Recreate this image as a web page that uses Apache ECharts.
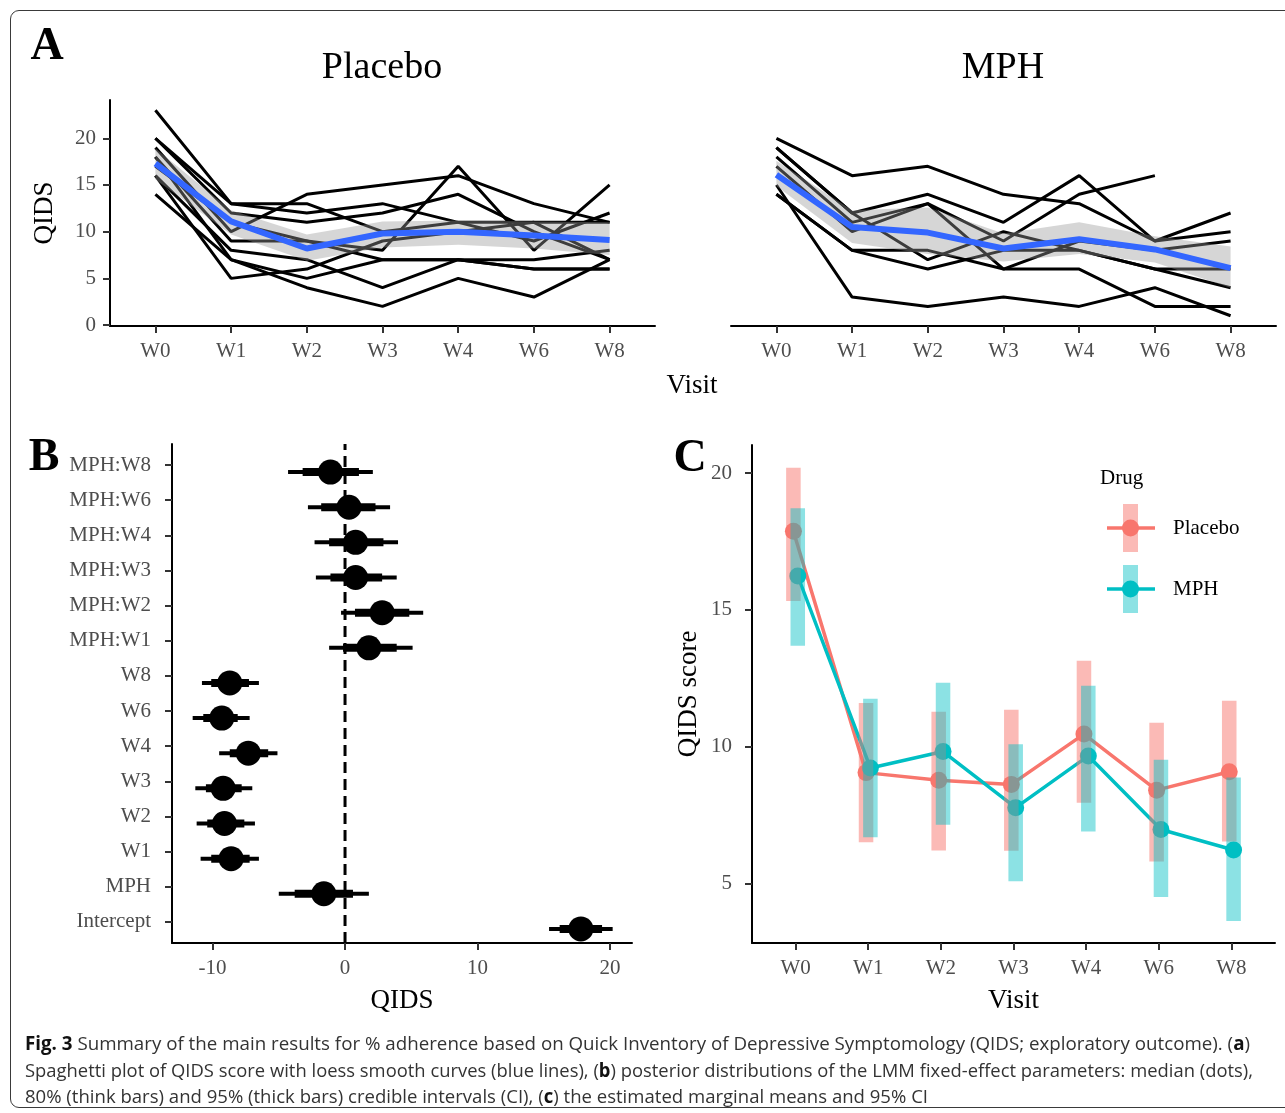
<!DOCTYPE html>
<html><head><meta charset="utf-8">
<script src="https://cdn.jsdelivr.net/npm/echarts@6/dist/echarts.min.js"></script>
<style>
html,body{margin:0;padding:0;background:#fff;width:1285px;height:1113px;overflow:hidden;}
#chart{position:absolute;left:0;top:0;width:1285px;height:1113px;}
#frame{position:absolute;left:10px;top:10px;width:1320px;height:1098px;border:1.5px solid #3a3a3a;border-radius:9px;box-sizing:border-box;pointer-events:none;}
.cap{position:absolute;left:25px;white-space:nowrap;font-family:"Open Sans";font-size:19px;color:#333;transform-origin:0 50%;line-height:20px;}
.cap b{color:#111;}
</style></head><body>
<div id="frame"></div>
<div id="chart"></div>
<div class="cap" id="c1" style="top:1033px"><b>Fig. 3</b> Summary of the main results for % adherence based on Quick Inventory of Depressive Symptomology (QIDS; exploratory outcome). (<b>a</b>)</div>
<div class="cap" id="c2" style="top:1060px">Spaghetti plot of QIDS score with loess smooth curves (blue lines), (<b>b</b>) posterior distributions of the LMM fixed-effect parameters: median (dots),</div>
<div class="cap" id="c3" style="top:1086px">80% (think bars) and 95% (thick bars) credible intervals (CI), (<b>c</b>) the estimated marginal means and 95% CI</div>
<script>
// ---------- DATA ----------
const visits = ['W0','W1','W2','W3','W4','W6','W8'];

// Panel A: individual trajectories (values at W0..W8)
const placeboSubjects = [
  [23, 13, 13, 10, 11, 11, 11],
  [20, 12, 11, 12, 14, 10, 7],
  [19, 10, 14, 15, 16, 13, 11],
  [20, 13, 12, 13, 11, 9, 12],
  [18, 9, 9, 8, 17, 8, 15],
  [17, 11, 9, 7, 7, 7, 8],
  [16, 5, 6, 9, 10, 11, 7],
  [16, 8, 7, 4, 7, 6, 6],
  [14, 7, 4, 2, 5, 3, 7],
  [18, 7, 5, 7, 7, 6, 6]
];
const mphSubjects = [
  [20, 16, 17, 14, 13, 9, 12],
  [19, 12, 14, 11, 16, 9, 10],
  [18, 11, 13, 9, 14, 16, null],
  [17, 10, 13, 6, 9, 8, 9],
  [15, 3, 2, 3, 2, 4, 1],
  [14, 8, 8, 6, 6, 2, 2],
  [14, 8, 6, 8, 8, 6, 6],
  [19, 12, 7, 10, 8, 6, 4]
];
// loess smooth + ribbon
const placeboLoess   = [17.3, 11.1, 8.2, 9.8, 10.0, 9.6, 9.1];
const placeboLoessLo = [15.6, 9.7, 6.9, 8.3, 8.6, 8.2, 7.5];
const placeboLoessHi = [18.9, 12.3, 9.7, 11.1, 11.2, 11.1, 11.0];
const mphLoess   = [16.1, 10.5, 9.9, 8.2, 9.2, 8.1, 6.1];
const mphLoessLo = [14.9, 8.8, 7.6, 6.8, 7.6, 6.7, 4.0];
const mphLoessHi = [17.6, 12.3, 12.6, 9.8, 11.0, 9.5, 8.4];

// Panel B: posterior summaries (bottom to top)
const params = ['Intercept','MPH','W1','W2','W3','W4','W6','W8','MPH:W1','MPH:W2','MPH:W3','MPH:W4','MPH:W6','MPH:W8'];
const postMedian = [17.8, -1.6, -8.6, -9.1, -9.2, -7.3, -9.3, -8.7, 1.8, 2.8, 0.8, 0.8, 0.3, -1.1];
const lo95 = [15.4, -5.0, -10.9, -11.2, -11.3, -9.5, -11.5, -10.8, -1.2, -0.3, -2.2, -2.3, -2.8, -4.3];
const hi95 = [20.2, 1.8, -6.5, -6.8, -7.0, -5.1, -7.2, -6.5, 5.1, 5.9, 3.9, 4.0, 3.4, 2.1];
const lo80 = [16.2, -3.8, -10.1, -10.4, -10.5, -8.7, -10.7, -10.1, -0.15, 0.75, -1.1, -1.2, -1.8, -3.2];
const hi80 = [19.4, 0.6, -7.2, -7.6, -7.8, -5.8, -8.1, -7.25, 3.9, 4.85, 2.8, 2.9, 2.3, 1.05];

// Panel C: estimated marginal means and 95% CI
const emmPlacebo   = [17.88, 9.05, 8.77, 8.62, 10.46, 8.41, 9.08];
const emmPlaceboLo = [15.33, 6.50, 6.20, 6.19, 7.95, 5.80, 6.53];
const emmPlaceboHi = [20.20, 11.60, 11.28, 11.35, 13.14, 10.87, 11.68];
const emmMph   = [16.24, 9.22, 9.82, 7.77, 9.66, 6.97, 6.22];
const emmMphLo = [13.69, 6.69, 7.14, 5.08, 6.90, 4.50, 3.62];
const emmMphHi = [18.72, 11.75, 12.34, 10.09, 12.23, 9.52, 8.87];

const placeboTicksA = [0, 5, 10, 15, 20];
const ticksB = [-10, 0, 10, 20];
const ticksC = [5, 10, 15, 20];

// ---------- STYLES ----------
const SERIF = '"Liberation Serif", "DejaVu Serif", serif';
const RED = '#F8766D', TEAL = '#00BFC4';
const visitIdx = visits.map((v, i) => i);
const labelStyle = (margin) => ({color:'#4D4D4D', fontSize:21, fontFamily:SERIF, margin});
const axisLineStyle = {show:true, onZero:false, lineStyle:{color:'#000', width:2}};
const tickStyle = (vals) => ({show:true, length:7, customValues: vals, lineStyle:{color:'#333', width:2}});
const nameStyle = {color:'#000', fontSize:27, fontFamily:SERIF};

function visitAxis(grid, name) {
  return {
    type:'value', gridIndex:grid, min:-0.6, max:6.6,
    axisLine:axisLineStyle, axisTick:tickStyle(visitIdx),
    axisLabel:Object.assign(labelStyle(15), {customValues:visitIdx, formatter:v => visits[Math.round(v)]}),
    splitLine:{show:false},
    name: name || '', nameLocation:'middle', nameGap:44, nameTextStyle:nameStyle
  };
}

const xAxes = [
  visitAxis(0),
  visitAxis(1),
  { type:'value', gridIndex:2, min:-13.06, max:21.66,
    axisLine:axisLineStyle, axisTick:tickStyle(ticksB),
    axisLabel:Object.assign(labelStyle(15), {customValues:ticksB}),
    splitLine:{show:false},
    name:'QIDS', nameLocation:'middle', nameGap:44, nameTextStyle:nameStyle },
  { type:'value', gridIndex:3, min:-13.06, max:21.66, show:false, splitLine:{show:false} },
  visitAxis(4, 'Visit')
];
const posB = params.map((p, i) => i + 1);
const yAxes = [
  { type:'value', gridIndex:0, min:-0.1, max:24.1,
    axisLine:axisLineStyle, axisTick:tickStyle(placeboTicksA),
    axisLabel:Object.assign(labelStyle(14), {customValues:placeboTicksA}),
    splitLine:{show:false},
    name:'QIDS', nameLocation:'middle', nameGap:52, nameTextStyle:nameStyle },
  { type:'value', gridIndex:1, min:-0.1, max:24.1, show:false, splitLine:{show:false} },
  { type:'value', gridIndex:2, min:0.4, max:14.6,
    axisLine:axisLineStyle, axisTick:tickStyle(posB),
    axisLabel:Object.assign(labelStyle(21), {customValues:posB, formatter:v => params[Math.round(v) - 1]}),
    splitLine:{show:false} },
  { type:'value', gridIndex:3, min:0.4, max:14.6, show:false, splitLine:{show:false} },
  { type:'value', gridIndex:4, min:2.82, max:21.03,
    axisLine:axisLineStyle, axisTick:tickStyle(ticksC),
    axisLabel:Object.assign(labelStyle(20), {customValues:ticksC}),
    splitLine:{show:false},
    name:'QIDS score', nameLocation:'middle', nameGap:50, nameTextStyle:nameStyle }
];

const series = [];
function spaghetti(subjects, ax) {
  subjects.forEach(s => {
    series.push({
      type:'line', xAxisIndex:ax, yAxisIndex:ax, z:2, silent:true, symbol:'none',
      lineStyle:{color:'#000', width:3}, animation:false,
      data: s.map((v, i) => [i, v]).filter(d => d[1] !== null)
    });
  });
}
function ribbon(lo, hi, ax) {
  series.push({
    type:'custom', xAxisIndex:ax, yAxisIndex:ax, z:3, silent:true, animation:false,
    data: lo.map((v, i) => [i, v, hi[i]]),
    encode:{x:0, y:[1,2]},
    renderItem:(p, api) => {
      if (p.dataIndex !== 0) return null;
      const pts = [];
      for (let i = 0; i < hi.length; i++) pts.push(api.coord([i, hi[i]]));
      for (let i = lo.length - 1; i >= 0; i--) pts.push(api.coord([i, lo[i]]));
      return {type:'polygon', shape:{points:pts}, style:{fill:'rgba(153,153,153,0.4)'}};
    }
  });
}
function smoothLine(vals, ax) {
  series.push({
    type:'line', xAxisIndex:ax, yAxisIndex:ax, z:4, silent:true, symbol:'none', animation:false,
    lineStyle:{color:'#3366FF', width:6}, data: vals.map((v, i) => [i, v])
  });
}
spaghetti(placeboSubjects, 0); ribbon(placeboLoessLo, placeboLoessHi, 0); smoothLine(placeboLoess, 0);
spaghetti(mphSubjects, 1); ribbon(mphLoessLo, mphLoessHi, 1); smoothLine(mphLoess, 1);

// Panel B
series.push({
  type:'custom', xAxisIndex:2, yAxisIndex:2, z:1, silent:true, animation:false,
  data:[[0, 0.4, 14.6]], encode:{x:0, y:[1,2]},
  renderItem:(p, api) => {
    const a = api.coord([api.value(0), api.value(1)]);
    const b = api.coord([api.value(0), api.value(2)]);
    return {type:'line', shape:{x1:a[0], y1:a[1], x2:b[0], y2:b[1]},
      style:{stroke:'#000', lineWidth:3, lineDash:[11, 6]}};
  }
});
function intervals(lo, hi, w) {
  series.push({
    type:'custom', xAxisIndex:3, yAxisIndex:3, z:3, silent:true, animation:false,
    data: lo.map((v, i) => [v, hi[i], posB[i]]), encode:{x:[0,1], y:2},
    renderItem:(p, api) => {
      const a = api.coord([api.value(0), api.value(2)]);
      const b = api.coord([api.value(1), api.value(2)]);
      return {type:'line', shape:{x1:a[0], y1:a[1], x2:b[0], y2:b[1]},
        style:{stroke:'#000', lineWidth:w, lineCap:'butt'}};
    }
  });
}
intervals(lo95, hi95, 4);
intervals(lo80, hi80, 8);
series.push({
  type:'scatter', xAxisIndex:3, yAxisIndex:3, z:4, silent:true, animation:false,
  symbol:'circle', symbolSize:25, itemStyle:{color:'#000', opacity:1},
  data: postMedian.map((v, i) => [v, posB[i]])
});

// Panel C
const dodge = 0.03;
function emmLine(vals, col, off) {
  series.push({
    type:'line', xAxisIndex:4, yAxisIndex:4, z:2, silent:true, animation:false,
    symbol:'circle', symbolSize:17, showSymbol:true,
    lineStyle:{color:col, width:3.5}, itemStyle:{color:col, opacity:1},
    data: vals.map((v, i) => [i + off, v])
  });
}
function emmBars(lo, hi, fill, off) {
  series.push({
    type:'custom', xAxisIndex:4, yAxisIndex:4, z:5, silent:true, animation:false,
    data: lo.map((v, i) => [i + off, v, hi[i]]), encode:{x:0, y:[1,2]},
    renderItem:(p, api) => {
      const top = api.coord([api.value(0), api.value(2)]);
      const bot = api.coord([api.value(0), api.value(1)]);
      const w = api.size([0.2, 0])[0];
      return {type:'rect', shape:{x:top[0] - w/2, y:top[1], width:w, height:bot[1] - top[1]},
        style:{fill:fill}};
    }
  });
}
emmLine(emmPlacebo, RED, -dodge);
emmLine(emmMph, TEAL, dodge);
emmBars(emmPlaceboLo, emmPlaceboHi, 'rgba(248,118,109,0.5)', -dodge);
emmBars(emmMphLo, emmMphHi, 'rgba(0,191,196,0.45)', dodge);

function txt(x, y, text, size, opts) {
  opts = opts || {};
  return {type:'text', x:x, y:y, silent:true, z:10,
    style:{text:text, fontSize:size, fontFamily:SERIF, fontWeight:opts.bold ? 'bold' : 'normal',
      fill:opts.color || '#000', textAlign:opts.align || 'center', textVerticalAlign:'middle'}};
}
const legendGraphics = [];
[['Placebo', RED, 'rgba(248,118,109,0.5)', 528], ['MPH', TEAL, 'rgba(0,191,196,0.45)', 589]].forEach(([name, col, fill, y]) => {
  legendGraphics.push({type:'rect', silent:true, z:10, shape:{x:1123, y:y - 24, width:15, height:48}, style:{fill:fill}});
  legendGraphics.push({type:'line', silent:true, z:11, shape:{x1:1107, y1:y, x2:1155, y2:y}, style:{stroke:col, lineWidth:3.5}});
  legendGraphics.push({type:'circle', silent:true, z:12, shape:{cx:1130.5, cy:y, r:8.5}, style:{fill:col}});
  legendGraphics.push(txt(1173, y, name, 21, {align:'left'}));
});

const option = {
  animation:false,
  textStyle:{fontFamily:SERIF},
  grid:[
    {left:110, top:100, width:545, height:226},
    {left:731, top:100, width:545, height:226},
    {left:172, top:444, width:460, height:499},
    {left:172, top:451, width:460, height:499},
    {left:752, top:445, width:523, height:498}
  ],
  xAxis:xAxes, yAxis:yAxes, series:series,
  graphic:[
    txt(47, 47, 'A', 46, {bold:true}),
    txt(382, 68, 'Placebo', 38),
    txt(1003, 68, 'MPH', 38),
    txt(692, 386, 'Visit', 27),
    txt(44, 458, 'B', 46, {bold:true}),
    txt(690, 459, 'C', 46, {bold:true}),
    txt(1100, 478, 'Drug', 21, {align:'left'})
  ].concat(legendGraphics)
};
const chart = echarts.init(document.getElementById('chart'), null, {renderer:'canvas'});
chart.setOption(option);

function fitCaptions() {
  const targets = {c1:1225, c2:1228, c3:903};
  Object.keys(targets).forEach(id => {
    const el = document.getElementById(id);
    el.style.transform = 'none';
    const w = el.getBoundingClientRect().width;
    el.style.transform = 'scaleX(' + (targets[id] / w) + ')';
  });
}
fitCaptions();
if (document.fonts && document.fonts.ready) document.fonts.ready.then(fitCaptions);
</script>
</body></html>
